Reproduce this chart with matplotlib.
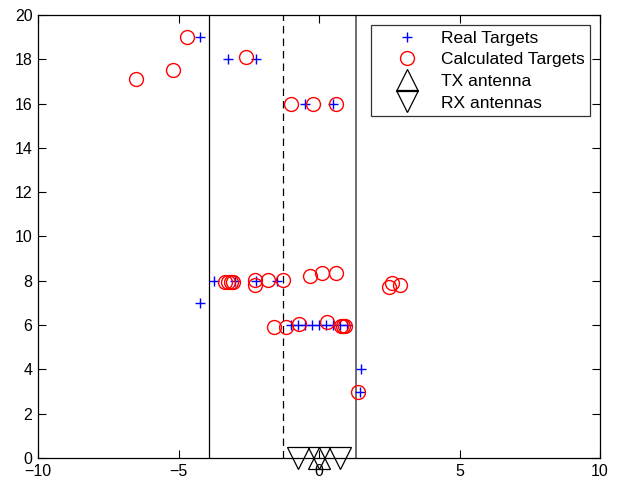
import matplotlib
matplotlib.use("Agg")
import matplotlib.pyplot as plt

plt.rcParams['font.family'] = ['Liberation Sans', 'DejaVu Sans']

# Real target positions
real_x = [-4.25, -3.25, -2.25, -0.5, 0.5,
          -3.75, -3.0, -2.25, -1.5, -4.25,
          -1.0, -0.75, -0.5, -0.25, 0.0, 0.25, 0.5, 0.75, 1.0,
          1.5, 1.45]
real_y = [19, 18, 18, 16, 16,
          8, 8, 8, 8, 7,
          6, 6, 6, 6, 6, 6, 6, 6, 6,
          4, 3]

# Calculated (estimated) target positions
calc_x = [-4.7, -5.2, -6.5, -2.6, -1.0, -0.2, 0.6,
          -3.35, -3.23, -3.14, -3.05, -2.28, -2.28, -1.8, -1.27,
          -0.32, 0.12, 0.6, 2.5, 2.6, 2.9,
          -1.6, -1.17, -0.7, 0.3, 0.77, 0.87, 0.93,
          1.4]
calc_y = [19.0, 17.5, 17.1, 18.1, 16.0, 16.0, 16.0,
          7.93, 7.93, 7.93, 7.93, 8.04, 7.81, 8.04, 8.04,
          8.22, 8.34, 8.34, 7.72, 7.9, 7.81,
          5.93, 5.93, 6.03, 6.12, 5.98, 5.98, 5.98,
          3.0]

# Antenna positions
tx_x = [0.0]
tx_y = [0.0]
rx_x = [-0.75, 0.0, 0.75]
rx_y = [0.0, 0.0, 0.0]

# Boundary lines
solid_lines = [-3.9]
dashed_lines = [-1.28]
gray_lines = [1.32]

fig = plt.figure(figsize=(6.18, 4.84), dpi=100)
ax = fig.add_axes([38 / 618, 26 / 484, 562 / 618, 443 / 484])

for xv in solid_lines:
    ax.axvline(xv, color='black', lw=0.9)
for xv in dashed_lines:
    ax.axvline(xv, color='black', lw=0.9, ls=(0, (6, 4)))
for xv in gray_lines:
    ax.axvline(xv, color='#555555', lw=1.2)

ax.plot(real_x, real_y, '+', color='blue', ms=7.5, mew=1.0, label='Real Targets')
ax.plot(calc_x, calc_y, 'o', mfc='none', mec='red', ms=10, mew=1.0,
        label='Calculated Targets')
ax.plot(tx_x, tx_y, '^', mfc='none', mec='black', ms=16, mew=0.9,
        label='TX antenna', clip_on=False)
ax.plot(rx_x, rx_y, 'v', mfc='none', mec='black', ms=16, mew=0.9,
        label='RX antennas', clip_on=False)

ax.set_xlim(-10, 10)
ax.set_ylim(0, 20)
ax.set_xticks([-10, -5, 0, 5, 10])
ax.set_yticks(range(0, 21, 2))
ax.tick_params(direction='in', top=True, right=True, length=6, width=0.8,
               labelsize=11.5, pad=4)
for s in ax.spines.values():
    s.set_linewidth(0.9)

leg = ax.legend(loc='upper right', fontsize=12.5, frameon=True, fancybox=False,
                edgecolor='black', borderpad=0.3, labelspacing=0.37,
                handletextpad=0.2, handlelength=3.5, borderaxespad=0.6)
leg.get_frame().set_linewidth(0.9)

fig.savefig('out.png', dpi=100)
